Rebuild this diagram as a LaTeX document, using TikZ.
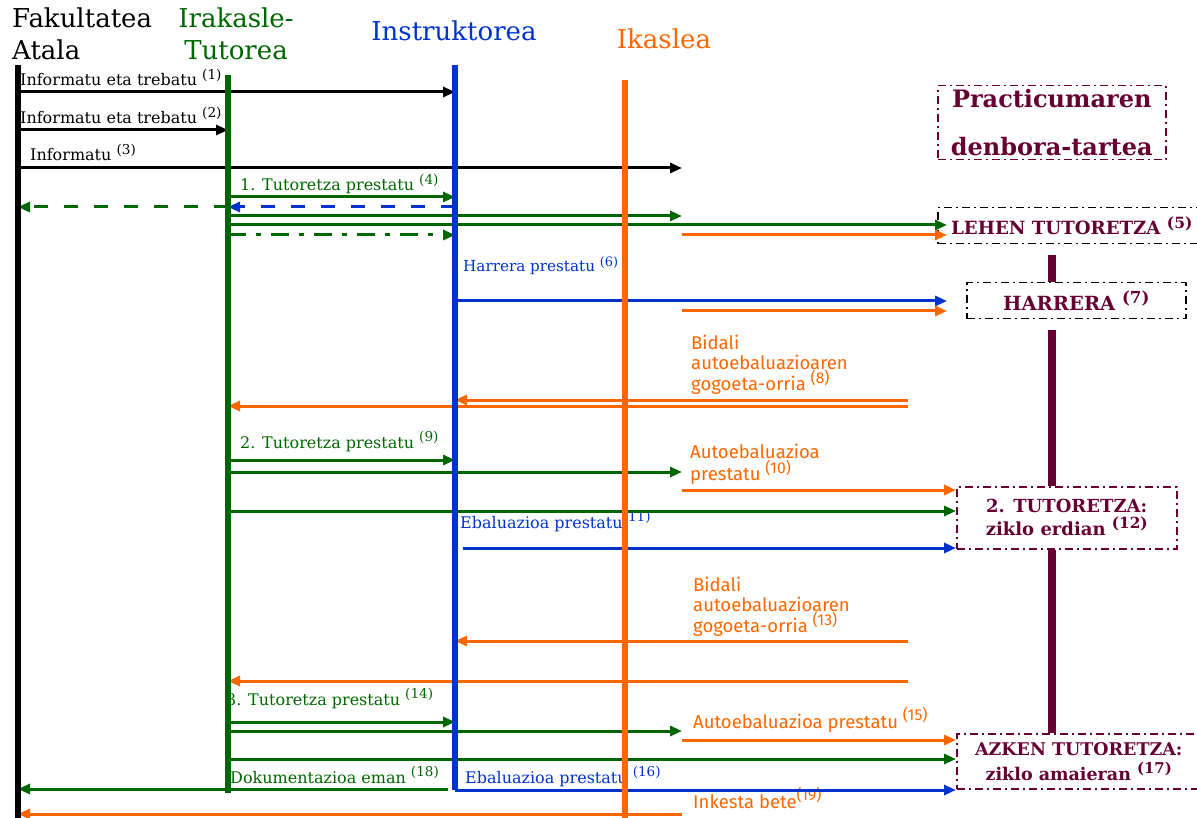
\documentclass[tikz,border=0pt]{standalone}
\usepackage{fontspec}
\setmainfont{DejaVu Serif}
\newfontfamily\sansfam{Fira Sans}
\usetikzlibrary{arrows.meta}
\definecolor{tgreen}{RGB}{0,102,0}
\definecolor{iblue}{RGB}{0,51,204}
\definecolor{korange}{RGB}{255,102,0}
\definecolor{pmaroon}{RGB}{102,0,51}
\makeatletter
\newcommand{\numref}[1]{\raisebox{0.38em}{\fontsize{\fpeval{0.85*\f@size}}{0}\selectfont(#1)}}
\makeatother
\tikzset{
	head/.style={inner sep=0pt,font=\fontsize{26}{32}\selectfont},
	life/.style={line width=6pt},
	msg/.style={line width=3pt,-{Triangle[length=12pt,width=10pt]}},
	lbl/.style={anchor=base west,inner sep=0pt,font=\fontsize{16}{20}\selectfont},
	olbl/.style={anchor=north west,inner sep=0pt,align=left,text=korange,font=\sansfam\fontsize{18.5}{19.5}\selectfont},
	phase/.style={draw,line width=1.5pt,dash pattern=on 8pt off 4pt on 2pt off 4pt,
		text=pmaroon,font=\bfseries\fontsize{18}{23}\selectfont,align=center,inner sep=0pt,anchor=north west},
	timeline/.style={pmaroon,line width=8pt}
}

\begin{document}
\begin{tikzpicture}[x=1pt,y=-1pt]
\useasboundingbox (0,0) rectangle (1197,818);

% lanes
\node[head,anchor=north west,align=left] (fak) at (12,8) {Fakultatea\\Atala};
\node[head,anchor=north,align=center,text=tgreen] (tutor) at (236,8) {Irakasle-\\Tutorea};
\node[head,anchor=base,text=iblue] (instr) at (454,41) {Instruktorea};
\node[head,anchor=base,text=korange] (ikas) at (664,49) {Ikaslea};
\coordinate (fac) at (18,0);
\coordinate (tut) at (228,0);
\coordinate (ins) at (455,0);
\coordinate (insL) at (448,0);
\coordinate (insR) at (463,0);
\coordinate (ika) at (625,0);
\coordinate (ikaP) at (682,0);
\coordinate (ikaS) at (908,0);
\coordinate (boxin) at (947,0);
\coordinate (tl) at (1052,0);

% phases
\node[phase,draw=pmaroon,minimum width=228pt,minimum height=74pt,font=\bfseries\fontsize{24}{48}\selectfont] (period) at (937,85) {Practicumaren\\denbora-tartea};
\node[phase,minimum width=268pt,minimum height=36pt,font=\bfseries\fontsize{18.2}{23}\selectfont] (lehen) at (937,207) {LEHEN TUTORETZA \numref{5}};
\node[phase,minimum width=219pt,minimum height=36pt,font=\bfseries\fontsize{19.5}{23}\selectfont] (harrera) at (966,282) {HARRERA \numref{7}};
\node[phase,draw=pmaroon,minimum width=220pt,minimum height=62pt] (box2) at (956,486) {2. TUTORETZA:\\ziklo erdian \numref{12}};
\node[phase,draw=pmaroon,minimum width=244pt,minimum height=55pt,font=\bfseries\fontsize{17.5}{25}\selectfont] (azken) at (956,733) {AZKEN TUTORETZA:\\ziklo amaieran \numref{17}};
\draw[timeline] (tl |- 0,255) -- (tl |- harrera.north);
\draw[timeline] (tl |- 0,330) -- (tl |- box2.north);
\draw[timeline] (tl |- box2.south) -- (tl |- azken.north);

% labels
\node[lbl] (l1) at (20,86) {Informatu eta trebatu \numref{1}};
\node[lbl] (l2) at (20,124) {Informatu eta trebatu \numref{2}};
\node[lbl] (l3) at (30,161) {Informatu \numref{3}};
\node[lbl,text=tgreen] (l4) at (240,191) {1. Tutoretza prestatu \numref{4}};
\node[lbl,text=iblue,font=\fontsize{15.2}{20}\selectfont] (l6) at (463,272) {Harrera prestatu \numref{6}};
\node[olbl] (l8) at (691,335) {Bidali\\autoebaluazioaren\\gogoeta-orria \numref{8}};
\node[lbl,text=tgreen] (l9) at (240,448) {2. Tutoretza prestatu \numref{9}};
\node[olbl,font=\sansfam\fontsize{18.5}{20}\selectfont] (l10) at (690,444) {Autoebaluazioa\\prestatu \numref{10}};
\node[lbl,text=iblue] (l11) at (460,528) {Ebaluazioa prestatu\numref{11}};
\node[olbl] (l13) at (693,577) {Bidali\\autoebaluazioaren\\gogoeta-orria \numref{13}};
\node[lbl,text=tgreen] (l14) at (226,705) {3. Tutoretza prestatu \numref{14}};
\node[olbl,anchor=base west] (l15) at (693,728) {Autoebaluazioa prestatu \numref{15}};
\node[lbl,text=iblue] (l16) at (465,783) {Ebaluazioa prestatu \numref{16}};
\node[lbl,text=tgreen] (l18) at (230,783) {Dokumentazioa eman \numref{18}};
\node[olbl,anchor=base west] (l19) at (693,808) {Inkesta bete\numref{19}};

% messages
\draw[msg] (fac |- 0,92) -- (ins |- 0,92);
\draw[msg] (fac |- 0,130) -- (tut |- 0,130);
\draw[msg] (fac |- 0,168) -- (ikaP |- 0,168);
\draw[msg,tgreen] (tut |- 0,197) -- (ins |- 0,197);
\draw[msg,iblue,dash pattern=on 14pt off 16pt] (ins |- 0,207) -- (tut |- 0,207);
\draw[msg,tgreen,dash pattern=on 14pt off 16pt] (tut |- 0,207) -- (fac |- 0,207);
\draw[msg,tgreen] (tut |- 0,216) -- (ikaP |- 0,216);
\draw[msg,tgreen] (tut |- 0,225) -- (boxin |- 0,225);
\draw[msg,korange] (ikaP |- 0,235) -- (boxin |- 0,235);
\draw[msg,tgreen,dash pattern=on 18pt off 10pt on 5pt off 10pt] (tut |- 0,235) -- (ins |- 0,235);
\draw[msg,iblue] (ins |- 0,301) -- (boxin |- 0,301);
\draw[msg,korange] (ikaP |- 0,311) -- (boxin |- 0,311);
\draw[msg,korange] (ikaS |- 0,400) -- (ins |- 0,400);
\draw[msg,korange] (ikaS |- 0,406) -- (tut |- 0,406);
\draw[msg,tgreen] (tut |- 0,460) -- (ins |- 0,460);
\draw[msg,tgreen] (tut |- 0,472) -- (ikaP |- 0,472);
\draw[msg,korange] (ikaP |- 0,490) -- (box2.west |- 0,490);
\draw[msg,tgreen] (tut |- 0,511) -- (box2.west |- 0,511);
\draw[msg,iblue] (insR |- 0,548) -- (box2.west |- 0,548);
\draw[msg,korange] (ikaS |- 0,641) -- (ins |- 0,641);
\draw[msg,korange] (ikaS |- 0,681) -- (tut |- 0,681);
\draw[msg,tgreen] (tut |- 0,722) -- (ins |- 0,722);
\draw[msg,tgreen] (tut |- 0,731) -- (ikaP |- 0,731);
\draw[msg,korange] (ikaP |- 0,740) -- (azken.west |- 0,740);
\draw[msg,tgreen] (tut |- 0,759) -- (azken.west |- 0,759);
\draw[msg,tgreen] (insL |- 0,789) -- (fac |- 0,789);
\draw[msg,iblue] (ins |- 0,790) -- (azken.west |- 0,790);
\draw[msg,korange] (ikaP |- 0,814) -- (fac |- 0,814);

% lifelines
\draw[life] (fac |- 0,65) -- (fac |- 0,818);
\draw[life,tgreen] (tut |- 0,75) -- (tut |- 0,793);
\draw[life,iblue] (ins |- 0,65) -- (ins |- 0,790);
\draw[life,korange] (ika |- 0,80) -- (ika |- 0,818);
\end{tikzpicture}
\end{document}
